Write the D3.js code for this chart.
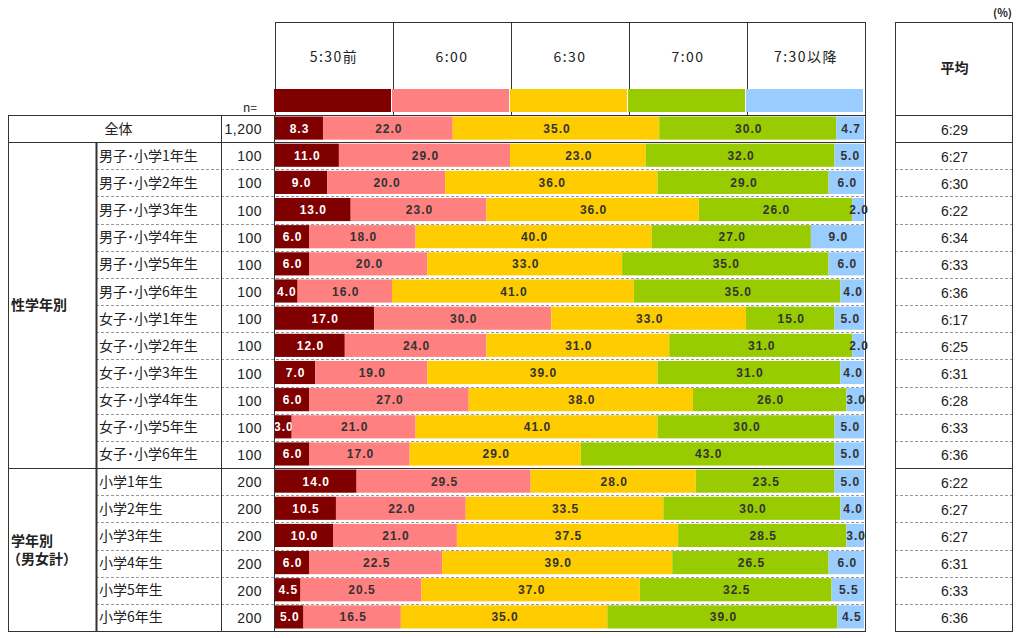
<!DOCTYPE html>
<html>
<head>
<meta charset="utf-8">
<script src="https://cdn.jsdelivr.net/npm/d3@7"></script>
<style>
  body { margin: 0; background: #fff; }
  text { font-family: "Noto Sans CJK JP", "Liberation Sans", sans-serif; fill: #222; }
  .num { font-family: "Liberation Sans", sans-serif; }
</style>
</head>
<body>
<div id="chart"></div>
<script>
let categories = [
  "全体",
  "男子･小学1年生", "男子･小学2年生", "男子･小学3年生", "男子･小学4年生", "男子･小学5年生", "男子･小学6年生",
  "女子･小学1年生", "女子･小学2年生", "女子･小学3年生", "女子･小学4年生", "女子･小学5年生", "女子･小学6年生",
  "小学1年生", "小学2年生", "小学3年生", "小学4年生", "小学5年生", "小学6年生"
]
let nValues = ["1,200", "100", "100", "100", "100", "100", "100", "100", "100", "100", "100", "100", "100",
  "200", "200", "200", "200", "200", "200"]

let series = ["5:30前", "6:00", "6:30", "7:00", "7:30以降"]
let colors = ["#800000", "#ff8080", "#ffcc00", "#99cc00", "#99ccff"]

let v0530 = [8.3, 11.0, 9.0, 13.0, 6.0, 6.0, 4.0, 17.0, 12.0, 7.0, 6.0, 3.0, 6.0, 14.0, 10.5, 10.0, 6.0, 4.5, 5.0]
let v0600 = [22.0, 29.0, 20.0, 23.0, 18.0, 20.0, 16.0, 30.0, 24.0, 19.0, 27.0, 21.0, 17.0, 29.5, 22.0, 21.0, 22.5, 20.5, 16.5]
let v0630 = [35.0, 23.0, 36.0, 36.0, 40.0, 33.0, 41.0, 33.0, 31.0, 39.0, 38.0, 41.0, 29.0, 28.0, 33.5, 37.5, 39.0, 37.0, 35.0]
let v0700 = [30.0, 32.0, 29.0, 26.0, 27.0, 35.0, 35.0, 15.0, 31.0, 31.0, 26.0, 30.0, 43.0, 23.5, 30.0, 28.5, 26.5, 32.5, 39.0]
let v0730 = [4.7, 5.0, 6.0, 2.0, 9.0, 6.0, 4.0, 5.0, 2.0, 4.0, 3.0, 5.0, 5.0, 5.0, 4.0, 3.0, 6.0, 5.5, 4.5]

let averages = ["6:29", "6:27", "6:30", "6:22", "6:34", "6:33", "6:36", "6:17", "6:25", "6:31", "6:28", "6:33", "6:36",
  "6:22", "6:27", "6:27", "6:31", "6:33", "6:36"]

// group blocks: first / last row index
let groups = [
  { lines: ["性学年別"], from: 1, to: 12 },
  { lines: ["学年別", "（男女計）"], from: 13, to: 18 }
]

let svgW = 1022
let svgH = 638

let table = { left: 8, groupCol: 96, nCol: 221, barLeft: 274, barRight: 865, top: 115, bottom: 631, headTop: 22 }
let avgBox = { left: 895, right: 1012 }

let rows = categories.map((c, i) => ({
  name: c, n: nValues[i], avg: averages[i],
  "5:30前": v0530[i], "6:00": v0600[i], "6:30": v0630[i], "7:00": v0700[i], "7:30以降": v0730[i]
}))

let x = d3.scaleLinear()
  .domain([0, 100])
  .range([table.barLeft, table.barRight - 1])

let y = d3.scaleBand()
  .domain(categories)
  .range([table.top, table.bottom])

let xLegend = d3.scaleBand()
  .domain(series)
  .range([table.barLeft + 1, table.barRight])

let color = d3.scaleOrdinal()
  .domain(series)
  .range(colors)

let svg = d3.select("#chart")
  .append("svg")
  .attr("width", svgW)
  .attr("height", svgH)

let line = "#333"
let dash = "#999"

// ---- legend header ----
let head = svg.append("g")

head.append("line")
  .attr("x1", table.barLeft + 1).attr("x2", table.barRight)
  .attr("y1", table.headTop + 0.5).attr("y2", table.headTop + 0.5)
  .attr("stroke", line)

head.selectAll(".hdiv")
  .data(series.concat(["end"]))
  .enter()
  .append("line")
  .attr("x1", (d, i) => i < series.length ? xLegend(d) + 0.5 : table.barRight + 0.5)
  .attr("x2", (d, i) => i < series.length ? xLegend(d) + 0.5 : table.barRight + 0.5)
  .attr("y1", table.headTop)
  .attr("y2", table.top)
  .attr("stroke", line)

head.selectAll(".swatch")
  .data(series)
  .enter()
  .append("rect")
  .attr("x", d => xLegend(d) - 1)
  .attr("y", 89)
  .attr("width", xLegend.bandwidth() - 1)
  .attr("height", 23)
  .attr("fill", d => color(d))

head.selectAll(".htext")
  .data(series)
  .enter()
  .append("text")
  .attr("x", d => xLegend(d) + xLegend.bandwidth() / 2)
  .attr("y", 62)
  .attr("text-anchor", "middle")
  .attr("font-size", 14)
  .attr("letter-spacing", 1.5)
  .text(d => d)

svg.append("text")
  .attr("x", 250).attr("y", 112)
  .attr("text-anchor", "middle")
  .attr("font-size", 12)
  .text("n=")

svg.append("text")
  .attr("x", 1012).attr("y", 17)
  .attr("text-anchor", "end")
  .attr("font-size", 11)
  .attr("font-weight", "bold")
  .text("(%)")

// ---- row separators ----
let grid = svg.append("g")

let solidRows = [0, 1, 13]
grid.selectAll(".rowline")
  .data(categories.slice(1))
  .enter()
  .append("line")
  .attr("x1", (d, i) => solidRows.includes(i + 1) ? table.left : table.groupCol)
  .attr("x2", table.barRight)
  .attr("y1", d => Math.round(y(d)) + 0.5)
  .attr("y2", d => Math.round(y(d)) + 0.5)
  .attr("stroke", (d, i) => solidRows.includes(i + 1) ? line : dash)
  .attr("stroke-dasharray", (d, i) => solidRows.includes(i + 1) ? null : "3,2")

grid.selectAll(".avgline")
  .data(categories.slice(1))
  .enter()
  .append("line")
  .attr("x1", avgBox.left)
  .attr("x2", avgBox.right)
  .attr("y1", d => Math.round(y(d)) + 0.5)
  .attr("y2", d => Math.round(y(d)) + 0.5)
  .attr("stroke", (d, i) => solidRows.includes(i + 1) ? line : dash)
  .attr("stroke-dasharray", (d, i) => solidRows.includes(i + 1) ? null : "3,2")

// ---- bars ----
let stack = d3.stack().keys(series)
let stacked = stack(rows)

let bh = y.bandwidth() - 4

let layers = svg.append("g")
  .selectAll("g")
  .data(stacked)
  .enter()
  .append("g")
  .attr("fill", d => color(d.key))

layers.selectAll("rect")
  .data(d => d)
  .enter()
  .append("rect")
  .attr("x", d => x(d[0]))
  .attr("y", d => y(d.data.name) + 1.5)
  .attr("width", d => x(d[1]) - x(d[0]))
  .attr("height", bh)

layers.selectAll("text")
  .data(d => d.map(p => ({ p: p, key: d.key })))
  .enter()
  .append("text")
  .attr("class", "num")
  .attr("x", d => (x(d.p[0]) + x(d.p[1])) / 2 + 1)
  .attr("y", d => y(d.p.data.name) + 1.5 + bh / 2 + 4.5)
  .attr("text-anchor", "middle")
  .attr("font-size", 12)
  .attr("font-weight", "bold")
  .attr("letter-spacing", 1)
  .style("fill", d => d.key === series[0] ? "#fff" : "#333")
  .text(d => (d.p[1] - d.p[0]).toFixed(1))

// ---- outer frame ----
let frame = svg.append("g").attr("stroke", line).attr("fill", "none")

frame.append("line")
  .attr("x1", table.left).attr("x2", table.barRight)
  .attr("y1", table.top + 0.5).attr("y2", table.top + 0.5)
frame.append("line")
  .attr("x1", table.left).attr("x2", table.barRight + 1)
  .attr("y1", table.bottom + 0.5).attr("y2", table.bottom + 0.5)
frame.append("line")
  .attr("x1", table.left + 0.5).attr("x2", table.left + 0.5)
  .attr("y1", table.top).attr("y2", table.bottom)
frame.append("line")
  .attr("x1", table.groupCol + 0.5).attr("x2", table.groupCol + 0.5)
  .attr("y1", y(categories[1])).attr("y2", table.bottom)
  .attr("stroke-width", 2)
frame.append("line")
  .attr("x1", table.nCol + 0.5).attr("x2", table.nCol + 0.5)
  .attr("y1", table.top).attr("y2", table.bottom)
frame.append("line")
  .attr("x1", table.barLeft + 0.5).attr("x2", table.barLeft + 0.5)
  .attr("y1", table.top).attr("y2", table.bottom)
frame.append("line")
  .attr("x1", table.barRight + 0.5).attr("x2", table.barRight + 0.5)
  .attr("y1", table.headTop).attr("y2", table.bottom)

frame.append("rect")
  .attr("x", avgBox.left + 0.5).attr("y", table.headTop + 0.5)
  .attr("width", avgBox.right - avgBox.left).attr("height", table.bottom - table.headTop)
frame.append("line")
  .attr("x1", avgBox.left).attr("x2", avgBox.right)
  .attr("y1", table.top + 0.5).attr("y2", table.top + 0.5)

// ---- row texts ----
let labels = svg.append("g")

labels.selectAll(".cat")
  .data(categories)
  .enter()
  .append("text")
  .attr("x", (d, i) => i === 0 ? (table.left + table.nCol) / 2 + 4 : table.groupCol + 3)
  .attr("y", d => y(d) + y.bandwidth() / 2 + 5)
  .attr("text-anchor", (d, i) => i === 0 ? "middle" : "start")
  .attr("font-size", 14)
  .text(d => d)

labels.selectAll(".n")
  .data(rows)
  .enter()
  .append("text")
  .attr("class", "num")
  .attr("x", 262)
  .attr("y", d => y(d.name) + y.bandwidth() / 2 + 5.5)
  .attr("text-anchor", "end")
  .attr("font-size", 14)
  .attr("letter-spacing", 0.5)
  .text(d => d.n)

labels.selectAll(".avg")
  .data(rows)
  .enter()
  .append("text")
  .attr("class", "num")
  .attr("x", (avgBox.left + avgBox.right) / 2 + 1)
  .attr("y", d => y(d.name) + y.bandwidth() / 2 + 6)
  .attr("text-anchor", "middle")
  .attr("font-size", 14)
  .text(d => d.avg)

labels.append("text")
  .attr("x", (avgBox.left + avgBox.right) / 2 + 1)
  .attr("y", 73)
  .attr("text-anchor", "middle")
  .attr("font-size", 14)
  .attr("font-weight", "bold")
  .text("平均")

groups.forEach(g => {
  let mid = (y(categories[g.from]) + y(categories[g.to]) + y.bandwidth()) / 2
  let off = (g.lines.length - 1) * 9
  g.lines.forEach((t, j) => {
    labels.append("text")
      .attr("x", j === 0 ? 11 : 7)
      .attr("y", mid - off + j * 18 + 5)
      .attr("font-size", 14)
      .attr("font-weight", "bold")
      .text(t)
  })
})
</script>
</body>
</html>
